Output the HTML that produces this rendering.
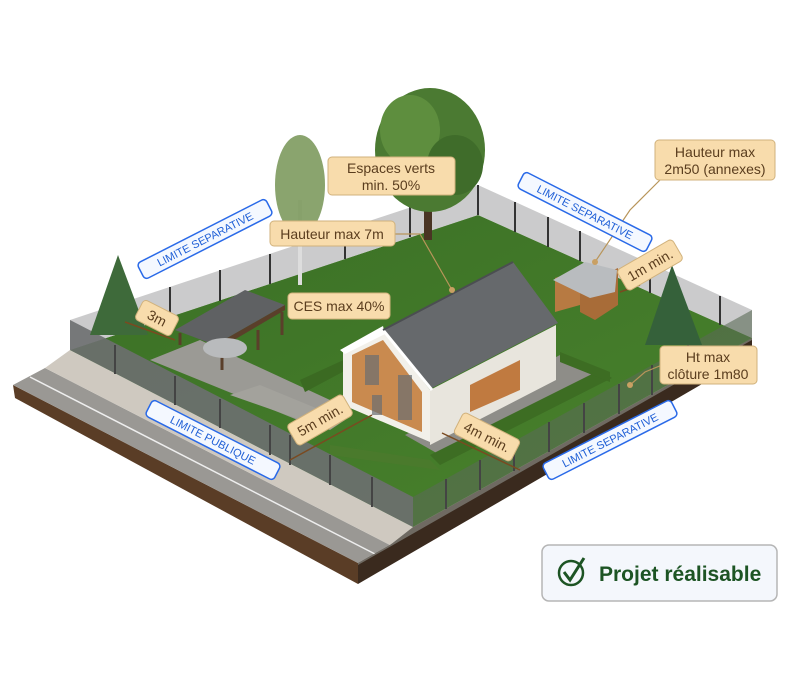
<!DOCTYPE html>
<html><head><meta charset="utf-8"><style>
body{margin:0;background:#fff;width:800px;height:683px;overflow:hidden;font-family:"Liberation Sans",sans-serif}
.t{font-family:"Liberation Sans",sans-serif}
</style></head><body>
<svg width="800" height="683" viewBox="0 0 800 683" xmlns="http://www.w3.org/2000/svg">
<defs>
<linearGradient id="g" x1="0" y1="0" x2="1" y2="1"><stop offset="0" stop-color="#3a6f25"/><stop offset="1" stop-color="#4a832d"/></linearGradient>
</defs>
<polygon points="13,385 358,563 358,584 15,398" fill="#5a3d26"/>
<polygon points="358,563 752,338 752,355 358,584" fill="#3a2a1e"/>
<polygon points="13,385 45,368 390,545 358,563" fill="#9a9894"/>
<line x1="30" y1="377" x2="375" y2="554" stroke="#eee" stroke-width="1.5"/>
<polygon points="45,368 70,350 413,527 390,545" fill="#cfc9c0"/>
<polygon points="358,563 390,545 413,527 752,338 752,340 358,565" fill="#6f6a62"/>
<polygon points="70,350 478,215 752,338 413,527" fill="url(#g)"/>
<polygon points="150,360 200,340 330,400 310,425" fill="#9b9a95"/>
<polygon points="230,395 330,430 345,420 260,385" fill="#a3a29c"/>
<polygon points="405,435 560,355 600,375 440,455" fill="#8e8d88"/>
<polygon points="300,380 350,357 350,368 305,392" fill="#3b6a22"/>
<polygon points="430,455 600,370 612,378 440,465" fill="#3d6d23"/>
<polygon points="560,352 610,372 610,382 560,362" fill="#3d6d23"/>
<polygon points="330,445 430,460 440,470 330,455" fill="#4a7a2c"/>
<polygon points="70,320 478,185 478,215 70,350" fill="#b9babb" opacity="0.75"/>
<polygon points="478,185 752,310 752,338 478,215" fill="#b9babb" opacity="0.75"/>
<g stroke="#333" stroke-width="2">
<line x1="120" y1="303" x2="120" y2="334"/><line x1="170" y1="287" x2="170" y2="318"/><line x1="220" y1="270" x2="220" y2="301"/><line x1="270" y1="254" x2="270" y2="284"/><line x1="345" y1="229" x2="345" y2="259"/><line x1="410" y1="207" x2="410" y2="237"/><line x1="478" y1="185" x2="478" y2="215"/>
<line x1="515" y1="202" x2="515" y2="232"/><line x1="548" y1="217" x2="548" y2="247"/><line x1="580" y1="231" x2="580" y2="261"/><line x1="650" y1="264" x2="650" y2="293"/><line x1="720" y1="296" x2="720" y2="325"/>
</g>
<polygon points="70,320 413,497 413,527 70,350" fill="#6d6f70" opacity="0.9"/>
<polygon points="413,497 752,310 752,338 413,527" fill="#5a6a55" opacity="0.6"/>
<g stroke="#444" stroke-width="2">
<line x1="115" y1="345" x2="115" y2="374"/><line x1="175" y1="376" x2="175" y2="405"/><line x1="220" y1="399" x2="220" y2="428"/><line x1="270" y1="425" x2="270" y2="455"/><line x1="290" y1="435" x2="290" y2="465"/><line x1="330" y1="455" x2="330" y2="485"/><line x1="372" y1="477" x2="372" y2="507"/>
<line x1="446" y1="479" x2="446" y2="509"/><line x1="480" y1="460" x2="480" y2="490"/><line x1="514" y1="441" x2="514" y2="471"/><line x1="549" y1="422" x2="549" y2="452"/><line x1="584" y1="403" x2="584" y2="433"/><line x1="619" y1="384" x2="619" y2="414"/><line x1="652" y1="365" x2="652" y2="395"/><line x1="688" y1="345" x2="688" y2="375"/>
</g>
<rect x="424" y="190" width="8" height="50" fill="#4a3524"/>
<ellipse cx="430" cy="150" rx="55" ry="62" fill="#4b7a32"/>
<ellipse cx="410" cy="130" rx="30" ry="35" fill="#5e8e3e"/>
<ellipse cx="455" cy="165" rx="28" ry="30" fill="#3f6c2a"/>
<rect x="298" y="200" width="4" height="85" fill="#ddd"/>
<ellipse cx="300" cy="185" rx="25" ry="50" fill="#7d9a5e" opacity="0.9"/>
<polygon points="118,255 90,335 148,335" fill="#3e6a3a"/>
<polygon points="672,265 645,345 702,345" fill="#35613a"/>
<polygon points="175,330 245,290 285,305 215,345" fill="#5f6163"/>
<polygon points="215,345 285,305 285,310 215,351" fill="#5a3f2a"/>
<g stroke="#5a3f2a" stroke-width="3"><line x1="180" y1="333" x2="180" y2="345"/><line x1="222" y1="350" x2="222" y2="370"/><line x1="258" y1="330" x2="258" y2="350"/><line x1="282" y1="312" x2="282" y2="335"/></g>
<ellipse cx="225" cy="348" rx="22" ry="10" fill="#b9bbbd"/>
<polygon points="555,278 580,270 580,305 555,312" fill="#b77a42"/>
<polygon points="580,285 618,268 618,305 595,320 580,312" fill="#a86c38"/>
<polygon points="553,280 585,262 617,270 615,292 590,298" fill="#b9bcbf"/>
<polygon points="343,350 383,330 430,390 430,442 343,405" fill="#f2f0ea"/>
<polygon points="352,355 383,340 422,392 422,432 352,402" fill="#c98a4f"/>
<g fill="#6a6e72" opacity="0.7"><rect x="365" y="355" width="14" height="30"/><rect x="398" y="375" width="14" height="45"/><rect x="372" y="395" width="10" height="20"/></g>
<polygon points="430,390 556,325 556,380 430,445" fill="#e8e5dd"/>
<polygon points="470,385 520,360 520,390 470,412" fill="#c07a40"/>
<polygon points="383,330 513,262 558,323 432,388" fill="#66696c"/>
<polygon points="340,350 383,326 385,334 345,354" fill="#fff"/>
<line x1="383" y1="330" x2="432" y2="390" stroke="#fff" stroke-width="3"/>
<line x1="383" y1="330" x2="513" y2="262" stroke="#4b4e51" stroke-width="2"/>
<g stroke="#b8955a" stroke-width="1.2" fill="none">
<polyline points="395,234 420,234 452,290"/>
<polyline points="660,180 630,210 595,262"/>
<polyline points="662,365 645,372 630,385"/>
</g>
<g fill="#c9a063"><circle cx="452" cy="290" r="3"/><circle cx="595" cy="262" r="3"/><circle cx="630" cy="385" r="3"/></g>
<g stroke="#7a4a20" stroke-width="1.5"><line x1="290" y1="460" x2="372" y2="415"/><line x1="442" y1="433" x2="520" y2="470"/><line x1="620" y1="292" x2="640" y2="285"/><line x1="125" y1="322" x2="175" y2="340"/></g>
<g class="t" fill="#5a3d1e" font-size="14">
<rect x="328" y="157" width="127" height="38" rx="4" fill="#f8dcac" stroke="#d1b27c"/>
<text x="391" y="173" text-anchor="middle">Espaces verts</text><text x="391" y="190" text-anchor="middle">min. 50%</text>
<rect x="270" y="221" width="125" height="25" rx="4" fill="#f8dcac" stroke="#d1b27c"/>
<text x="332" y="239" text-anchor="middle">Hauteur max 7m</text>
<rect x="288" y="293" width="102" height="26" rx="4" fill="#f8dcac" stroke="#d1b27c"/>
<text x="339" y="311" text-anchor="middle">CES max 40%</text>
<rect x="655" y="140" width="120" height="40" rx="4" fill="#f8dcac" stroke="#d1b27c"/>
<text x="715" y="157" text-anchor="middle">Hauteur max</text><text x="715" y="174" text-anchor="middle">2m50 (annexes)</text>
<rect x="660" y="346" width="97" height="38" rx="4" fill="#f8dcac" stroke="#d1b27c"/>
<text x="708" y="362" text-anchor="middle">Ht max</text><text x="708" y="379" text-anchor="middle">clôture 1m80</text>
<g transform="translate(157,318) rotate(27)"><rect x="-20" y="-11" width="40" height="22" rx="4" fill="#f8dcac" stroke="#d1b27c"/><text y="5" text-anchor="middle">3m</text></g>
<g transform="translate(320,420) rotate(-30)"><rect x="-32" y="-12" width="64" height="24" rx="4" fill="#f8dcac" stroke="#d1b27c"/><text y="5" text-anchor="middle">5m min.</text></g>
<g transform="translate(487,437) rotate(27)"><rect x="-32" y="-12" width="64" height="24" rx="4" fill="#f8dcac" stroke="#d1b27c"/><text y="5" text-anchor="middle">4m min.</text></g>
<g transform="translate(650,265) rotate(-30)"><rect x="-32" y="-12" width="64" height="24" rx="4" fill="#f8dcac" stroke="#d1b27c"/><text y="5" text-anchor="middle">1m min.</text></g>
</g>
<g class="t" fill="#1f5fd6" font-size="11">
<g transform="translate(205,239) rotate(-27)"><rect x="-72" y="-9" width="144" height="18" rx="4" fill="#f4f8ff" stroke="#2a6ae8" stroke-width="1.5"/><text y="4" text-anchor="middle">LIMITE SEPARATIVE</text></g>
<g transform="translate(585,212) rotate(27)"><rect x="-72" y="-9" width="144" height="18" rx="4" fill="#f4f8ff" stroke="#2a6ae8" stroke-width="1.5"/><text y="4" text-anchor="middle">LIMITE SEPARATIVE</text></g>
<g transform="translate(213,440) rotate(27)"><rect x="-72" y="-9" width="144" height="18" rx="4" fill="#f4f8ff" stroke="#2a6ae8" stroke-width="1.5"/><text y="4" text-anchor="middle">LIMITE PUBLIQUE</text></g>
<g transform="translate(610,440) rotate(-27)"><rect x="-72" y="-9" width="144" height="18" rx="4" fill="#f4f8ff" stroke="#2a6ae8" stroke-width="1.5"/><text y="4" text-anchor="middle">LIMITE SEPARATIVE</text></g>
</g>
<rect x="542" y="545" width="235" height="56" rx="7" fill="#f4f7fc" stroke="#b5b5b5" stroke-width="1.5"/>
<circle cx="571" cy="573" r="12" fill="none" stroke="#1d5424" stroke-width="2.5"/>
<polyline points="564,572 570,580 584,558" fill="none" stroke="#1d5424" stroke-width="3"/>
<text x="599" y="581" class="t" font-size="21" font-weight="bold" fill="#1d5424">Projet réalisable</text>
</svg>
</body></html>
